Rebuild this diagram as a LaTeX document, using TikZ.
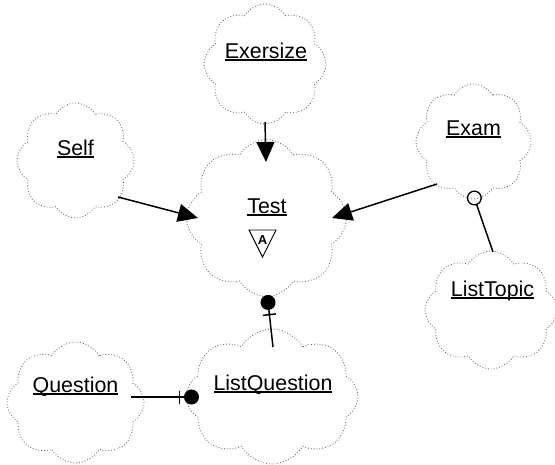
\documentclass[tikz,border=0pt]{standalone}
\usepackage{fontspec}
\setmainfont{Liberation Sans}
\usetikzlibrary{shapes.symbols,arrows.meta,calc}

% underlined class name with a rule at a fixed distance below the baseline
\newcommand\ulword[1]{\setbox0\hbox{#1}\rlap{\rule[-3pt]{\wd0}{1.8pt}}\box0}

\tikzset{
  classcloud/.style={cloud, cloud puffs=8, cloud puff arc=120, draw=black!60,
    dotted, line width=0.85pt, inner sep=0pt},
  classname/.style={anchor=base, inner sep=0pt,
    font=\fontsize{21.4}{25}\selectfont},
  rel/.style={line width=1.5pt, draw=black},
  inherit/.style={rel, -{Triangle[length=20pt,width=18pt]}},
  has/.style={rel, -{Bar[width=13pt,line width=1.5pt,sep=4pt]Circle[length=15pt]}},
  uses/.style={rel, -{Circle[open,length=15pt,line width=1.3pt]}},
}

\begin{document}
\begin{tikzpicture}[x=1pt,y=-1pt]
\useasboundingbox (0,0) rectangle (555,464);

% class clouds
\node[classcloud, minimum width=122pt, minimum height=120pt] (exersize) at (265,64) {};
\node[classcloud, minimum width=117pt, minimum height=115pt] (self) at (75.5,160.5) {};
\node[classcloud, minimum width=115pt, minimum height=115pt] (exam) at (473.5,141.5) {};
\node[classcloud, minimum width=160pt, minimum height=157pt] (test) at (266.5,218) {};
\node[classcloud, minimum width=132pt, minimum height=118pt] (listtopic) at (491,310) {};
\node[classcloud, minimum width=137pt, minimum height=121pt] (question) at (75.5,402.5) {};
\node[classcloud, minimum width=172pt, minimum height=135pt] (listquestion) at (272,396.5) {};

% class names
\node[classname] (exersize-name) at (266,58) {\ulword{Exersize}};
\node[classname] (self-name) at (75.5,155) {\ulword{Self}};
\node[classname] (exam-name) at (473.5,135) {\ulword{Exam}};
\node[classname] (test-name) at (267,213) {\ulword{Test}};
\node[classname] (listtopic-name) at (492.5,296) {\ulword{ListTopic}};
\node[classname] (question-name) at (75.5,392) {\ulword{Question}};
\node[classname] (listquestion-name) at (273,390) {\ulword{ListQuestion}};

% abstract class adornment
\node[font=\fontsize{13}{15}\selectfont\bfseries, inner sep=0pt] (abstract) at (262.5,240.5) {A};
\draw[line width=0.9pt, line join=miter]
  ($(abstract.center)+(-13.5,-10.5)$) -- ++(27,0) -- ++(-13.5,27) -- cycle;

% connector end points
\coordinate (exersize-out) at ($(exersize.center)+(0,58)$);
\coordinate (test-top) at ($(test.center)+(-0.5,-56)$);
\coordinate (self-out) at ($(self.center)+(42.5,36.5)$);
\coordinate (test-left) at ($(test.center)+(-68.5,0)$);
\coordinate (exam-out) at ($(exam.center)+(-36.5,42.5)$);
\coordinate (test-right) at ($(test.center)+(65.5,0)$);
\coordinate (listtopic-top) at ($(listtopic.center)+(2,-58)$);
\coordinate (exam-bottom) at ($(exam.center)+(-1.6,49.4)$);
\coordinate (listquestion-top) at ($(listquestion.center)+(1,-49.5)$);
\coordinate (test-bottom) at ($(test.center)+(0.7,77)$);
\coordinate (question-out) at ($(question.center)+(55.5,-5.5)$);
\coordinate (listquestion-left) at ($(listquestion.center)+(-73,0.5)$);

% relationships
\draw[inherit] (exersize-out) -- (test-top);
\draw[inherit] (self-out) -- (test-left);
\draw[inherit] (exam-out) -- (test-right);
\draw[uses] (listtopic-top) -- (exam-bottom);
\draw[has] (listquestion-top) -- (test-bottom);
\draw[has] (question-out) -- (listquestion-left);
\end{tikzpicture}
\end{document}
